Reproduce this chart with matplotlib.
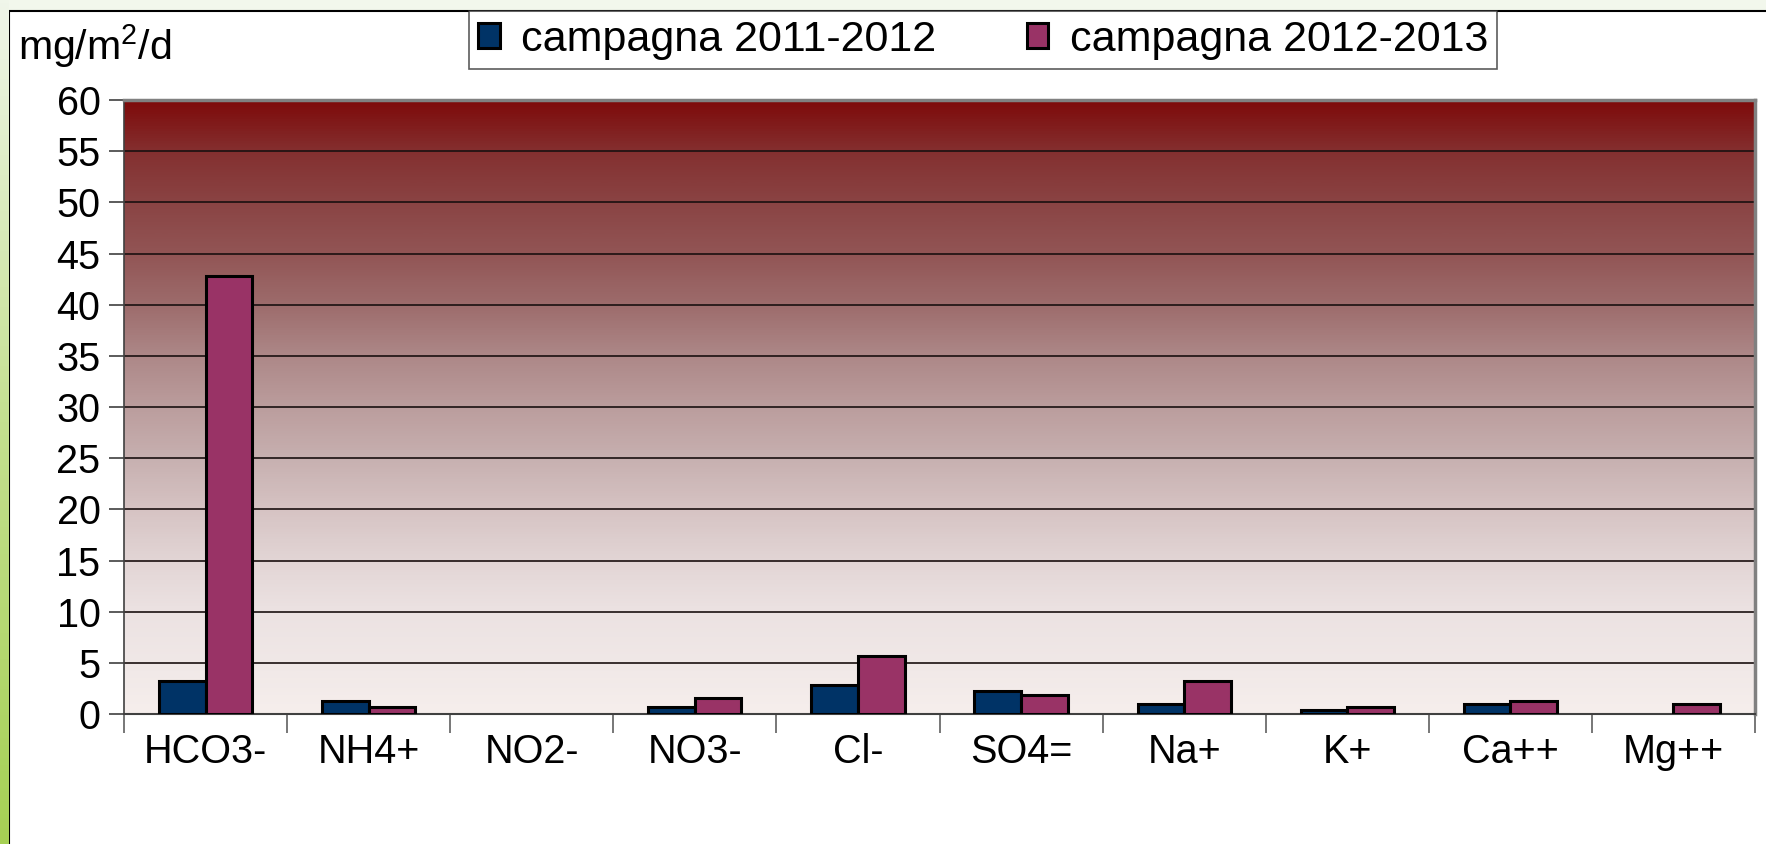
import numpy as np
import matplotlib
matplotlib.use("Agg")
from matplotlib import pyplot as plt
from matplotlib.colors import LinearSegmentedColormap
from matplotlib.patches import Rectangle

ions = ["HCO3-", "NH4+", "NO2-", "NO3-", "Cl-", "SO4=", "Na+", "K+", "Ca++", "Mg++"]
camp_2011_2012 = [3.2, 1.3, 0.0, 0.65, 2.85, 2.25, 0.95, 0.35, 0.95, 0.0]
camp_2012_2013 = [42.8, 0.65, 0.0, 1.6, 5.65, 1.9, 3.2, 0.65, 1.3, 0.95]
series_labels = ["campagna 2011-2012", "campagna 2012-2013"]
y_ticks = list(range(0, 61, 5))

W, H = 1766, 844
plt.rcParams['font.family'] = ['Liberation Sans', 'DejaVu Sans']
plt.rcParams['mathtext.fontset'] = 'custom'
plt.rcParams['mathtext.rm'] = 'Liberation Sans'
plt.rcParams['mathtext.it'] = 'Liberation Sans'

fig = plt.figure(figsize=(W / 100, H / 100), dpi=100, facecolor='#f2f7ec')

# green stripe on the left
strip = fig.add_axes([0, 0, 9 / W, 1])
green = LinearSegmentedColormap.from_list('g', ['#f0f6ea', '#c4e090', '#a6d054'])
strip.imshow(np.linspace(0, 1, 256).reshape(-1, 1), cmap=green, aspect='auto')
strip.axis('off')

# white frame
fig.patches.append(Rectangle((9 / W, -0.01), 1.0, 1 - 11 / H + 0.01, transform=fig.transFigure,
                             facecolor='white', edgecolor='black', lw=1.5, zorder=-5))

ax = fig.add_axes([124 / W, 1 - 714 / H, (1755 - 124) / W, (714 - 100) / H])
ax.set_zorder(3)

n = len(ions)
x = np.arange(n)
w = 1 / 3.5

# background gradient (dark red at top -> pale pink at bottom)
stops = [(0.0, '#f6eeec'), (1 / 12, '#f0e8e7'), (2 / 12, '#ece2e2'), (3 / 12, '#e2d5d5'),
         (4 / 12, '#d6c3c3'), (5 / 12, '#c7b0b0'), (6 / 12, '#bb9d9d'), (7 / 12, '#ad8888'),
         (8 / 12, '#9d6c6c'), (9 / 12, '#925555'), (10 / 12, '#8a4444'), (11 / 12, '#843030'),
         (1.0, '#7e0a0a')]
bgmap = LinearSegmentedColormap.from_list('bg', stops)
ax.imshow(np.linspace(1, 0, 512).reshape(-1, 1), cmap=bgmap, aspect='auto',
          extent=[-0.5, n - 0.5, 0, 60], zorder=0)

for v in y_ticks[1:-1]:
    ax.axhline(v, color='#1a1010', lw=1.2, zorder=1)

b1 = ax.bar(x - w / 2, camp_2011_2012, width=w, color='#003366', edgecolor='black', lw=2.2,
            label=series_labels[0], zorder=3)
b2 = ax.bar(x + w / 2, camp_2012_2013, width=w, color='#993366', edgecolor='black', lw=2.2,
            label=series_labels[1], zorder=3)
# empty values: no visible bar at all
for bars in (b1, b2):
    for p in bars:
        if p.get_height() == 0:
            p.set_visible(False)

ax.set_xlim(-0.5, n - 0.5)
ax.set_ylim(0, 60)
ax.set_yticks(y_ticks)
ax.tick_params(axis='y', direction='out', length=11, width=1.2, color='#404040',
               labelsize=28.5, pad=6)
ax.set_xticks(x)
ax.set_xticklabels(ions)
ax.set_xticks(np.arange(-0.5, n), minor=True)
ax.tick_params(axis='x', which='major', length=0, labelsize=28.5, pad=14)
ax.tick_params(axis='x', which='minor', direction='out', length=14, width=1.2, color='#606060')

for side in ['top', 'right']:
    ax.spines[side].set_color('#808080')
    ax.spines[side].set_linewidth(2.5)
ax.spines['left'].set_color('#404040')
ax.spines['bottom'].set_color('#404040')
ax.spines['left'].set_linewidth(1.2)
ax.spines['bottom'].set_linewidth(1.5)

fig.text(18 / W, 1 - 46 / H, 'mg/m$^{2}$/d', fontsize=29.5, ha='left', va='center')

leg = fig.legend(loc='center', bbox_to_anchor=((463 + 1503) / 2 / W, 1 - 40 / H),
                 ncol=2, frameon=True, fancybox=False, edgecolor='#333333',
                 prop={'size': 31},
                 handlelength=0.5, handleheight=0.5, handletextpad=0.5, columnspacing=2.1,
                 borderpad=0.2, borderaxespad=0)
leg.get_frame().set_linewidth(1.2)

fig.savefig('out.png', dpi=100, facecolor=fig.get_facecolor())
